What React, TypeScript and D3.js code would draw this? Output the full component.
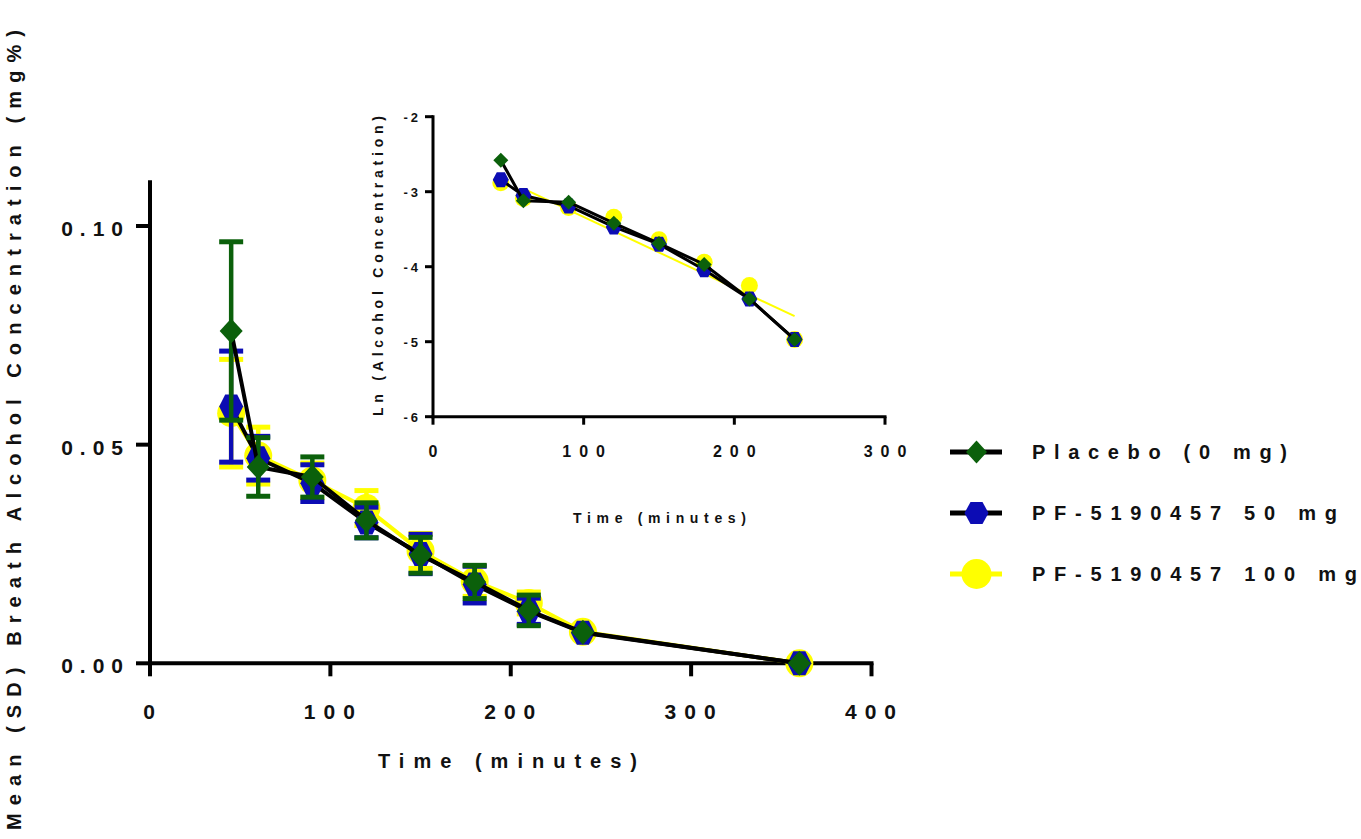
import React from 'react';
import * as d3 from 'd3';

// main chart: mean (SD) breath alcohol over time
const times = [45, 60, 90, 120, 150, 180, 210, 240, 360];
const placeboMean = [0.076, 0.0449, 0.0426, 0.0327, 0.0247, 0.0186, 0.0121, 0.0071, 0];
const placeboSD = [0.0204, 0.0067, 0.0046, 0.004, 0.0041, 0.0038, 0.0035, 0, 0];
const pf50Mean = [0.0587, 0.0469, 0.0412, 0.0322, 0.025, 0.018, 0.0119, 0.007, 0];
const pf50SD = [0.0127, 0.005, 0.0042, 0.0035, 0.0045, 0.0042, 0.003, 0, 0];
const pf100Mean = [0.0572, 0.0475, 0.0418, 0.0355, 0.0257, 0.0188, 0.0138, 0.0072, 0];
const pf100SD = [0.0123, 0.0065, 0.004, 0.004, 0.004, 0.0035, 0.0025, 0, 0];

// inset: ln of concentration
const lnTimes = [45, 60, 90, 120, 150, 180, 210, 240];
const lnPlacebo = [-2.58, -3.12, -3.14, -3.42, -3.69, -3.97, -4.43, -4.97];
const lnPf50 = [-2.84, -3.05, -3.19, -3.47, -3.7, -4.04, -4.43, -4.97];
const lnPf100 = [-2.88, -3.09, -3.21, -3.34, -3.64, -3.94, -4.25, -4.97];
// yellow fit line in the inset, read at its two ends
const fitTimes = [60, 240];
const fitLn = [-2.96, -4.66];

const seriesNames = ['Placebo (0 mg)', 'PF-5190457 50 mg', 'PF-5190457 100 mg'];
const mainXTicks = [0, 100, 200, 300, 400];
const mainYTicks = [0, 0.05, 0.1];
const insetXTicks = [0, 100, 200, 300];
const insetYTicks = [-2, -3, -4, -5, -6];

const GREEN = '#0b600b';
const BLUE = '#0c0cb4';
const YELLOW = '#ffff00';
const FONT = '"Liberation Sans", Arial, Helvetica, sans-serif';

const diamond = (w, h) => `M0,${-h / 2}L${w / 2},0L0,${h / 2}L${-w / 2},0Z`;
const hexagon = (w, h) =>
  `M${-w / 2},0L${-w / 4},${-h / 2}L${w / 4},${-h / 2}L${w / 2},0L${w / 4},${h / 2}L${-w / 4},${h / 2}Z`;

const Marker = ({ shape, color, cx, cy, s }) => {
  if (shape === 'circle') return <circle cx={cx} cy={cy} r={s.r} fill={color} />;
  const d = shape === 'diamond' ? diamond(s.dw, s.dh) : hexagon(s.hw, s.hh);
  return <path d={d} transform={`translate(${cx},${cy})`} fill={color} />;
};

const mainSize = { r: 14, dw: 23, dh: 25, hw: 24, hh: 24 };
const insetSize = { r: 8.5, dw: 15, dh: 15, hw: 16, hh: 15 };
const legendSize = { r: 15, dw: 21, dh: 23, hw: 24, hh: 22 };

export default function App() {
  const x = d3.scaleLinear().domain([0, 400]).range([150, 871.5]);
  const y = d3.scaleLinear().domain([0, 0.11]).range([663.3, 182.3]);
  const ix = d3.scaleLinear().domain([0, 300]).range([433, 885]);
  const iy = d3.scaleLinear().domain([-6, -2]).range([416.7, 116.7]);

  // drawn bottom to top: yellow, blue, green
  const main = [
    { mean: pf100Mean, sd: pf100SD, color: YELLOW, line: YELLOW, shape: 'circle' },
    { mean: pf50Mean, sd: pf50SD, color: BLUE, line: '#000', shape: 'hexagon' },
    { mean: placeboMean, sd: placeboSD, color: GREEN, line: '#000', shape: 'diamond' },
  ];
  const inset = [
    { ln: lnPf100, color: YELLOW, shape: 'circle' },
    { ln: lnPf50, color: BLUE, shape: 'hexagon' },
    { ln: lnPlacebo, color: GREEN, shape: 'diamond' },
  ];
  const legend = [
    { name: seriesNames[0], color: GREEN, line: '#000', shape: 'diamond', len: 255 },
    { name: seriesNames[1], color: BLUE, line: '#000', shape: 'hexagon', len: 305 },
    { name: seriesNames[2], color: YELLOW, line: YELLOW, shape: 'circle', len: 325 },
  ];

  const mainLine = d3.line<number>().x((_, i) => x(times[i])).y((v) => y(v));
  const insetLine = d3.line<number>().x((_, i) => ix(lnTimes[i])).y((v) => iy(v));
  const fitLine = d3.line<number>().x((_, i) => ix(fitTimes[i])).y((v) => iy(v));

  const txt = { fontFamily: FONT, fontWeight: 700, fill: '#111' };

  return (
    <svg width={1361} height={839} style={{ position: 'absolute', left: 0, top: 0, background: '#fff' }}>
      {/* main axes */}
      <g stroke="#000" strokeWidth={4} strokeLinecap="square">
        <line x1={x(0)} x2={x(400)} y1={y(0)} y2={y(0)} />
        <line x1={x(0)} x2={x(0)} y1={y(0)} y2={y(0.11)} />
        {mainXTicks.map((t) => (
          <line key={t} x1={x(t)} x2={x(t)} y1={y(0)} y2={y(0) + 13} strokeLinecap="butt" />
        ))}
        {mainYTicks.map((t) => (
          <line key={t} x1={x(0) - 14} x2={x(0)} y1={y(t)} y2={y(t)} strokeLinecap="butt" />
        ))}
      </g>
      {mainXTicks.map((t) => (
        <text key={t} x={x(t) + 3} y={719} textAnchor="middle" fontSize={21} letterSpacing={8} style={txt}>
          {t}
        </text>
      ))}
      {mainYTicks.map((t) => (
        <text key={t} x={130} y={y(t) + 10} textAnchor="end" fontSize={21} letterSpacing={7} style={txt}>
          {d3.format('.2f')(t)}
        </text>
      ))}
      <text x={378} y={768} fontSize={20} textLength={259} lengthAdjust="spacing" style={txt}>
        Time (minutes)
      </text>
      <text
        transform="translate(21,430) rotate(-90)"
        textAnchor="middle"
        fontSize={20}
        textLength={800}
        lengthAdjust="spacing"
        style={txt}
      >
        Mean (SD) Breath Alcohol Concentration (mg%)
      </text>

      {/* main series */}
      {main.map((s, k) => (
        <g key={k}>
          {times.map((t, i) =>
            s.sd[i] > 0 ? (
              <g key={i} stroke={s.color}>
                <line x1={x(t)} x2={x(t)} y1={y(s.mean[i] - s.sd[i])} y2={y(s.mean[i] + s.sd[i])} strokeWidth={4.5} />
                <line x1={x(t) - 12} x2={x(t) + 12} y1={y(s.mean[i] + s.sd[i])} y2={y(s.mean[i] + s.sd[i])} strokeWidth={5} />
                <line x1={x(t) - 12} x2={x(t) + 12} y1={y(s.mean[i] - s.sd[i])} y2={y(s.mean[i] - s.sd[i])} strokeWidth={5} />
              </g>
            ) : null
          )}
          <path d={mainLine(s.mean) || ''} fill="none" stroke={s.line} strokeWidth={4} strokeLinejoin="round" />
          {times.map((t, i) => (
            <Marker key={i} shape={s.shape} color={s.color} cx={x(t)} cy={y(s.mean[i])} s={mainSize} />
          ))}
        </g>
      ))}

      {/* inset axes */}
      <g stroke="#000" strokeWidth={3}>
        <line x1={ix(0)} x2={ix(300)} y1={iy(-6)} y2={iy(-6)} strokeLinecap="square" />
        <line x1={ix(0)} x2={ix(0)} y1={iy(-6)} y2={iy(-2)} strokeLinecap="square" />
        {insetXTicks.map((t) => (
          <line key={t} x1={ix(t)} x2={ix(t)} y1={iy(-6)} y2={iy(-6) + 8} />
        ))}
        {insetYTicks.map((t) => (
          <line key={t} x1={ix(0) - 8} x2={ix(0)} y1={iy(t)} y2={iy(t)} />
        ))}
      </g>
      {insetXTicks.map((t) => (
        <text key={t} x={ix(t) + 4} y={457} textAnchor="middle" fontSize={16} letterSpacing={8} style={txt}>
          {t}
        </text>
      ))}
      {insetYTicks.map((t) => (
        <text key={t} x={421} y={iy(t) + 5} textAnchor="end" fontSize={13} letterSpacing={3} style={txt}>
          {String(t)}
        </text>
      ))}
      <text x={573} y={523} fontSize={14} textLength={173} lengthAdjust="spacing" style={txt}>
        Time (minutes)
      </text>
      <text
        transform="translate(383,266) rotate(-90)"
        textAnchor="middle"
        fontSize={14}
        textLength={300}
        lengthAdjust="spacing"
        style={txt}
      >
        Ln (Alcohol Concentration)
      </text>

      {/* inset series */}
      {inset.map((s, k) => (
        <g key={k}>
          {s.shape === 'circle' ? (
            <path d={fitLine(fitLn) || ''} fill="none" stroke={YELLOW} strokeWidth={2} />
          ) : (
            <path d={insetLine(s.ln) || ''} fill="none" stroke="#000" strokeWidth={3} strokeLinejoin="round" />
          )}
          {lnTimes.map((t, i) => (
            <Marker key={i} shape={s.shape} color={s.color} cx={ix(t)} cy={iy(s.ln[i])} s={insetSize} />
          ))}
        </g>
      ))}

      {/* legend */}
      {legend.map((l, i) => {
        const ly = 452 + i * 61;
        return (
          <g key={i}>
            <line x1={950} x2={1002} y1={ly} y2={ly} stroke={l.line} strokeWidth={5} />
            <Marker shape={l.shape} color={l.color} cx={976.5} cy={ly} s={legendSize} />
            <text x={1032} y={ly + 7} fontSize={20} textLength={l.len} lengthAdjust="spacing" style={txt}>
              {l.name}
            </text>
          </g>
        );
      })}
    </svg>
  );
}
